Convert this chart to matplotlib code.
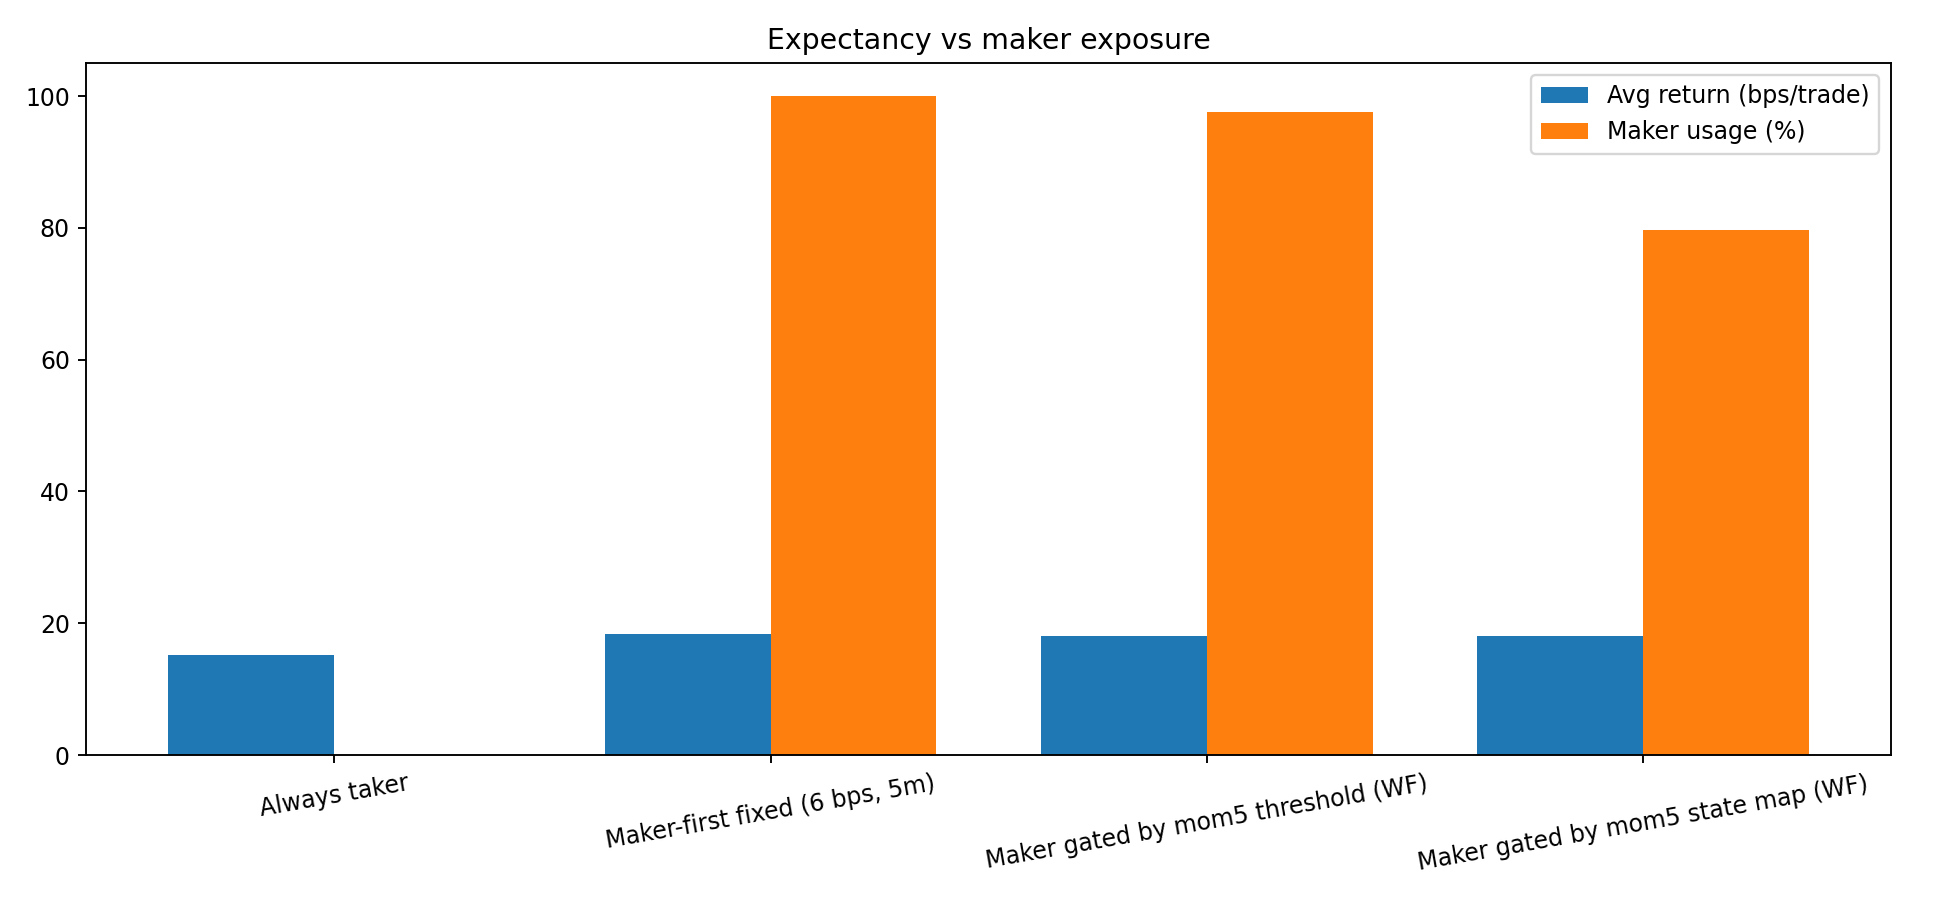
import numpy as np
import matplotlib
matplotlib.use("Agg")
import matplotlib.pyplot as plt

strategies = [
    "Always taker",
    "Maker-first fixed (6 bps, 5m)",
    "Maker gated by mom5 threshold (WF)",
    "Maker gated by mom5 state map (WF)",
]
avg_return_bps = [15.2, 18.4, 18.1, 18.0]
maker_usage_pct = [0.0, 100.0, 97.6, 79.6]

x = np.arange(len(strategies))
width = 0.38

fig, ax = plt.subplots(figsize=(11.4, 5.3), dpi=170)
ax.bar(x - width / 2, avg_return_bps, width, label="Avg return (bps/trade)")
ax.bar(x + width / 2, maker_usage_pct, width, label="Maker usage (%)")

ax.set_xticks(x)
ax.set_xticklabels(strategies, rotation=10)
ax.set_title("Expectancy vs maker exposure")
ax.legend(loc="upper right")

fig.subplots_adjust(left=0.0446, right=0.9757, top=0.930, bottom=0.162)
fig.savefig("out.png", dpi=170)
